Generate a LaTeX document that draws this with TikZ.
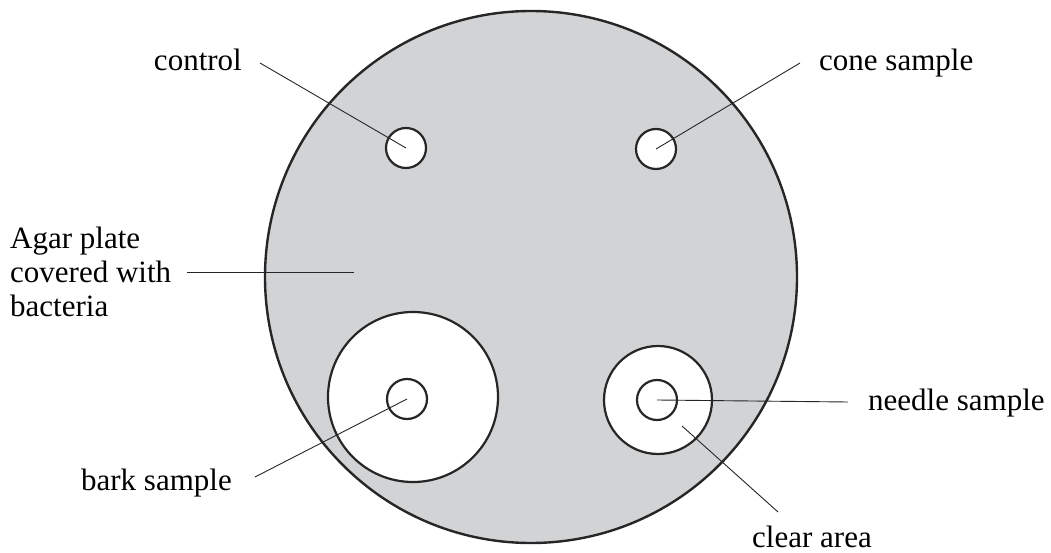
\documentclass[tikz,border=0pt]{standalone}
\usepackage{fontspec}
\setmainfont{Liberation Serif}
\definecolor{agar}{RGB}{209,211,212}
\begin{document}
\begin{tikzpicture}[x=1pt,y=-1pt,
    every node/.style={font=\fontsize{31}{34}\selectfont},
    plate/.style={circle,draw=black!85,fill=agar,line width=2.4pt,minimum size=532pt,inner sep=0pt},
    zone/.style={circle,draw=black!85,fill=white,line width=2.2pt,inner sep=0pt},
    well/.style={circle,draw=black!85,fill=white,line width=2.2pt,minimum size=40pt,inner sep=0pt},
    lead/.style={black!85,line width=0.9pt}]
    \useasboundingbox (0,0) rectangle (1051,553);
    % La placa y las zonas claras.
    \node[plate] (plate) at (531,277) {};
    \node[zone,minimum size=170pt] (barkzone) at (413,397) {};
    \node[zone,minimum size=108pt] (needlezone) at (658,400) {};
    \node[well] (ctrlwell) at (406,148) {};
    \node[well] (conewell) at (656,149) {};
    \node[well] (barkwell) at (407,399) {};
    \node[well] (needlewell) at (657,400) {};
    \coordinate (agarpt) at (354,272);
    \coordinate (clearpt) at (682,426);
    % Rótulos.
    \node[anchor=base east,inner sep=0pt] (control) at (242,71) {control};
    \node[anchor=base west,inner sep=0pt] (cone) at (819,71) {cone sample};
    \node[anchor=west,align=left,inner sep=0pt] (agar) at (10,272) {Agar plate\\covered with\\bacteria};
    \node[anchor=base east,inner sep=0pt] (bark) at (232,490) {bark sample};
    \node[anchor=base west,inner sep=0pt] (needle) at (868,410) {needle sample};
    \node[anchor=base west,inner sep=0pt] (clear) at (752,547) {clear area};
    \draw[lead] ([xshift=18pt,yshift=8pt]control.base east) -- (ctrlwell.center);
    \draw[lead] ([xshift=-19pt,yshift=8pt]cone.base west) -- (conewell.center);
    \draw[lead] ([xshift=16pt]agar.east) -- (agarpt);
    \draw[lead] ([xshift=23pt,yshift=13pt]bark.base east) -- (barkwell.center);
    \draw[lead] ([xshift=-20pt,yshift=8pt]needle.base west) -- (needlewell.center);
    \draw[lead] ([xshift=26pt,yshift=35pt]clear.base west) -- (clearpt);
\end{tikzpicture}
\end{document}
